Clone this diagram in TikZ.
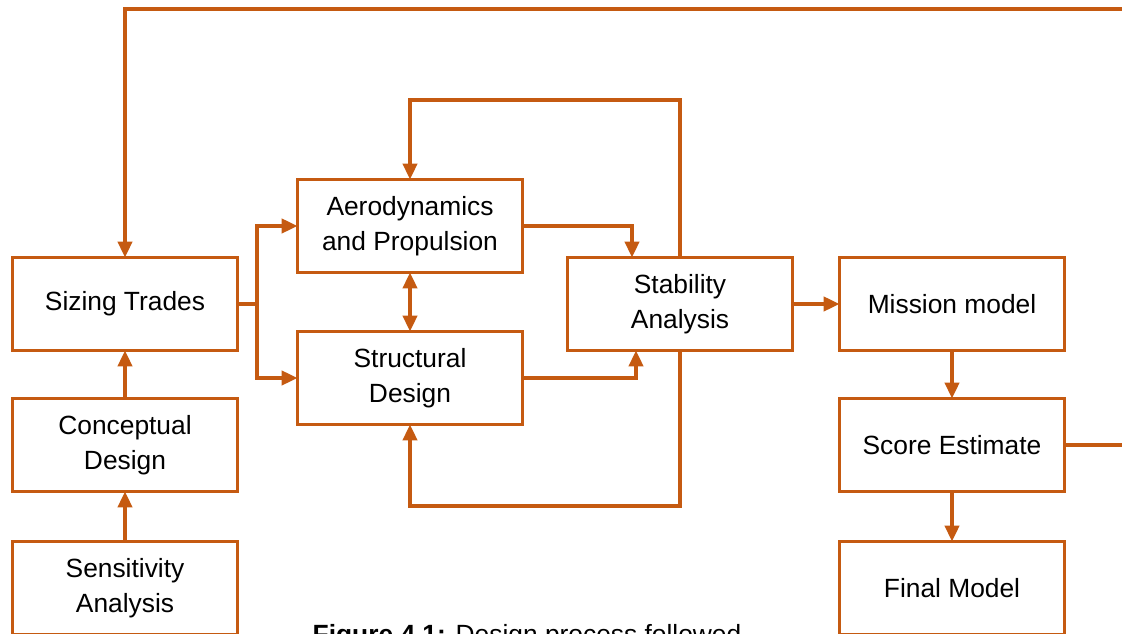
\documentclass[tikz,border=0pt]{standalone}
\usepackage{fontspec}
\setmainfont{Liberation Sans}
\usepackage{tikz}
\usetikzlibrary{arrows.meta,calc,positioning}
\definecolor{flow}{RGB}{197,90,17}
\tikzset{
  box/.style={draw=flow, line width=2.1pt, fill=white, minimum width=4.5cm, minimum height=1.86cm,
    align=center, outer sep=0pt, font=\fontsize{15}{20}\selectfont},
  link/.style={draw=flow, line width=2.1pt},
  arr/.style={link, -{Triangle[length=9pt,width=8pt]}},
  darr/.style={link, {Triangle[length=9pt,width=8pt]}-{Triangle[length=9pt,width=8pt]}}
}
\begin{document}
\begin{tikzpicture}[x=0.02cm, y=-0.02cm]
\useasboundingbox (0,0) rectangle (1122,634);
\node[box] (sizing) at (125,304) {Sizing Trades};
\node[box] (concept) at (125,445) {Conceptual\\Design};
\node[box] (sens) at (125,588) {Sensitivity\\Analysis};
\node[box] (aero) at (410,226) {Aerodynamics\\and Propulsion};
\node[box] (struct) at (410,378) {Structural\\Design};
\node[box] (stab) at (680,304) {Stability\\Analysis};
\node[box] (mission) at (952,304) {Mission model};
\node[box] (score) at (952,445) {Score Estimate};
\node[box] (final) at (952,588) {Final Model};
\coordinate (farright) at (1135,9);
% feedback loop
\draw[arr] (score.east) -| (farright) -| (sizing.north);
\draw[arr] (sens) -- (concept);
\draw[arr] (concept) -- (sizing);
\coordinate (split) at (257,304);
\draw[link] (sizing.east) -- (split);
\draw[arr] (split) |- (aero.west);
\draw[arr] (split) |- (struct.west);
\draw[darr] (aero) -- (struct);
\draw[arr] (aero.east) -| ($(stab.north)+(-48,0)$);
\draw[arr] (struct.east) -| ($(stab.south)+(-44,0)$);
\draw[arr] (stab.north) |- (410,100) -- (aero.north);
\draw[arr] (stab.south) |- (410,506) -- (struct.south);
\draw[arr] (stab) -- (mission);
\draw[arr] (mission) -- (score);
\draw[arr] (score) -- (final);
\node[anchor=base, font=\fontsize{15}{18}\selectfont] (caption) at (527,643) {\textbf{Figure 4.1:} Design process followed};
\end{tikzpicture}
\end{document}
